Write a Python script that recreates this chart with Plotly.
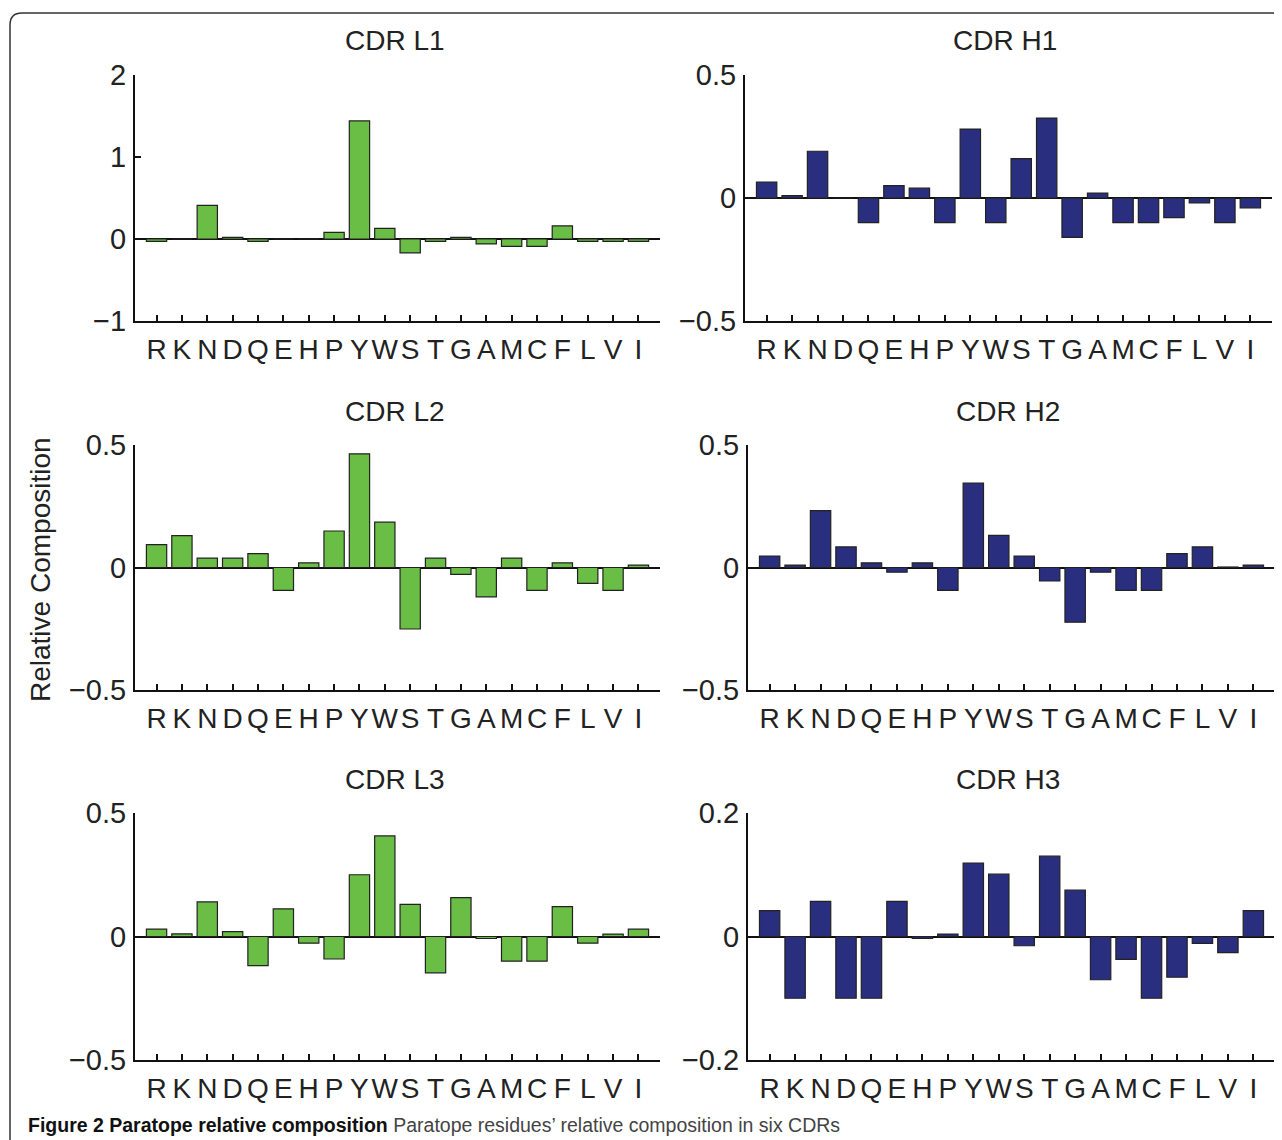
import plotly.graph_objects as go

residues = ["R", "K", "N", "D", "Q", "E", "H", "P", "Y", "W",
            "S", "T", "G", "A", "M", "C", "F", "L", "V", "I"]

cdr_l1 = [-0.03, 0.0, 0.41, 0.02, -0.03, 0.0, 0.0, 0.08, 1.44, 0.13,
          -0.17, -0.03, 0.02, -0.06, -0.09, -0.09, 0.16, -0.03, -0.03, -0.03]
cdr_h1 = [0.065, 0.01, 0.19, 0.0, -0.1, 0.05, 0.04, -0.1, 0.28, -0.1,
          0.16, 0.325, -0.16, 0.02, -0.1, -0.1, -0.08, -0.02, -0.1, -0.04]
cdr_l2 = [0.093, 0.13, 0.038, 0.038, 0.057, -0.093, 0.019, 0.149, 0.464, 0.185,
          -0.251, 0.038, -0.028, -0.12, 0.038, -0.093, 0.019, -0.065, -0.093, 0.01]
cdr_h2 = [0.047, 0.01, 0.232, 0.084, 0.019, -0.019, 0.019, -0.093, 0.345, 0.131,
          0.047, -0.055, -0.223, -0.019, -0.093, -0.093, 0.057, 0.084, 0.002, 0.01]
cdr_l3 = [0.03, 0.011, 0.14, 0.02, -0.118, 0.112, -0.027, -0.091, 0.25, 0.407,
          0.13, -0.147, 0.157, -0.008, -0.1, -0.1, 0.121, -0.027, 0.01, 0.03]
cdr_h3 = [0.042, -0.1, 0.057, -0.1, -0.1, 0.057, -0.003, 0.004, 0.119, 0.101,
          -0.015, 0.13, 0.075, -0.07, -0.037, -0.1, -0.066, -0.011, -0.026, 0.042]

panel_titles = ["CDR L1", "CDR H1", "CDR L2", "CDR H2", "CDR L3", "CDR H3"]
panel_series = [cdr_l1, cdr_h1, cdr_l2, cdr_h2, cdr_l3, cdr_h3]
y_ranges = [[-1, 2], [-0.5, 0.5], [-0.5, 0.5], [-0.5, 0.5], [-0.5, 0.5], [-0.2, 0.2]]
y_ticks = [[-1, 0, 1, 2], [-0.5, 0, 0.5], [-0.5, 0, 0.5], [-0.5, 0, 0.5],
           [-0.5, 0, 0.5], [-0.2, 0, 0.2]]
y_ticktext = [["\u22121", "0", "1", "2"], ["\u22120.5", "0", "0.5"], ["\u22120.5", "0", "0.5"],
              ["\u22120.5", "0", "0.5"], ["\u22120.5", "0", "0.5"], ["\u22120.2", "0", "0.2"]]

GREEN = "#6abd45"
BLUE = "#2a2e7e"
colors = [GREEN, BLUE, GREEN, BLUE, GREEN, BLUE]

W, H = 1282, 1140
OFF = 8  # page body margin offset


def px(xp):
    return (xp - OFF) / W


def py(yp):
    return 1 - (yp - OFF) / H


# pixel boxes in page coordinates: (left, right, top, bottom)
boxes = [(135, 660, 75, 321), (745, 1272, 75, 321),
         (135, 660, 445, 690), (748, 1275, 445, 690),
         (135, 660, 813, 1060), (748, 1275, 813, 1060)]
title_pos = [(395, 41), (1005, 41), (395, 411), (1008, 411), (395, 779), (1008, 779)]

FONT = "Liberation Sans, Arial, Helvetica, sans-serif"

fig = go.Figure()
layout = dict(width=W, height=H, margin=dict(l=0, r=0, t=0, b=0),
              paper_bgcolor="white", plot_bgcolor="white", showlegend=False,
              bargap=0.18, font=dict(family=FONT, color="#222222", size=28))
annotations = []
for i in range(6):
    n = i + 1
    xa = "x" if n == 1 else f"x{n}"
    ya = "y" if n == 1 else f"y{n}"
    fig.add_trace(go.Bar(x=residues, y=panel_series[i], xaxis=xa, yaxis=ya,
                         marker=dict(color=colors[i], line=dict(color="#222222", width=1.2)),
                         width=0.8))
    l, r, t, b = boxes[i]
    layout["xaxis" if n == 1 else f"xaxis{n}"] = dict(
        domain=[px(l), px(r)], anchor=ya, type="category",
        categoryorder="array", categoryarray=residues,
        tickmode="linear", tick0=0, dtick=1, tickangle=0,
        range=[-0.85, 19.85], showline=True, linecolor="#111111", linewidth=2,
        ticks="inside", ticklen=6, tickwidth=1.5, tickcolor="#111111",
        showgrid=False, zeroline=False, ticklabelstandoff=2, automargin=False,
        tickfont=dict(family=FONT, size=28, color="#222222"))
    layout["yaxis" if n == 1 else f"yaxis{n}"] = dict(
        domain=[py(b), py(t)], anchor=xa, range=y_ranges[i],
        tickmode="array", tickvals=y_ticks[i], ticktext=y_ticktext[i],
        showline=True, linecolor="#111111", linewidth=2,
        ticks="inside", ticklen=6, tickwidth=1.5, tickcolor="#111111",
        showgrid=False, zeroline=True, zerolinecolor="#111111", zerolinewidth=2,
        ticklabelstandoff=1, automargin=False,
        tickfont=dict(family=FONT, size=29, color="#222222"))
    tx, ty = title_pos[i]
    annotations.append(dict(text=panel_titles[i], x=px(tx), y=py(ty),
                            xref="paper", yref="paper", showarrow=False,
                            xanchor="center", yanchor="middle",
                            font=dict(family=FONT, size=28, color="#222222")))

annotations.append(dict(text="Relative Composition", x=px(40), y=py(570),
                        xref="paper", yref="paper", showarrow=False, textangle=-90,
                        xanchor="center", yanchor="middle",
                        font=dict(family=FONT, size=28, color="#222222")))
annotations.append(dict(
    text="<b>Figure 2 Paratope relative composition</b> "
         "<span style='color:#444444'>Paratope residues\u2019 relative composition in six CDRs</span>",
    x=px(26), y=py(1125), xref="paper", yref="paper", showarrow=False,
    xanchor="left", yanchor="middle",
    font=dict(family="Liberation Sans Narrow, Arial Narrow, Liberation Sans, sans-serif",
              size=19.5, color="#111111")))
layout["annotations"] = annotations

# rounded border frame
rad = 12
path = (f"M {px(10)} {py(1160)} L {px(10)} {py(13 + rad)} "
        f"Q {px(10)} {py(13)} {px(10 + rad)} {py(13)} L {px(1300)} {py(13)}")
layout["shapes"] = [dict(type="path", path=path, xref="paper", yref="paper",
                         line=dict(color="#333333", width=1.5))]

fig.update_layout(**layout)
fig.write_html("out.html")
